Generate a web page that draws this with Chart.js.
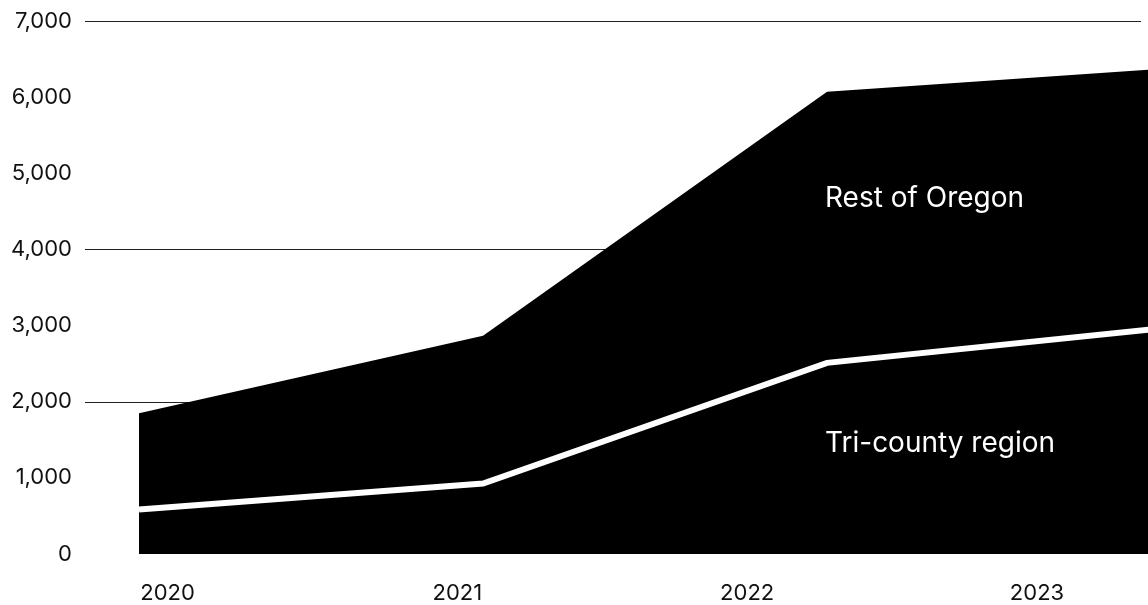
<!DOCTYPE html>
<html>
<head>
<meta charset="utf-8">
<script src="https://cdn.jsdelivr.net/npm/chart.js@4/dist/chart.umd.min.js"></script>
<style>
  html, body { margin: 0; padding: 0; background: #ffffff; }
  #wrap { width: 1148px; height: 605px; }
</style>
</head>
<body>
<div id="wrap"><canvas id="chart" width="1148" height="605"></canvas></div>
<script>
// Years shown along the bottom axis
const years = ['2020', '2021', '2022', '2023'];

// Tri-county region (Multnomah, Washington, Clackamas)
const triCounty = [585, 925, 2510, 2975];

// Rest of Oregon, stacked on top of the tri-county values
const restOfOregon = [1265, 1940, 3560, 3405];

// Value axis
const yMax = 7000;
const yStep = 1000;
const gridValues = [2000, 4000, 7000];

// Text labels drawn on top of the areas
const areaLabels = ['Rest of Oregon', 'Tri-county region'];

const FONT = 'Inter, "Noto Sans", sans-serif';

const toPoints = arr => arr.map((v, i) => ({ x: i, y: v }));

// Horizontal rules behind the areas, stopping a little short of the right edge
const gridRules = {
  id: 'gridRules',
  beforeDatasetsDraw(chart) {
    const { ctx, chartArea, scales } = chart;
    ctx.save();
    ctx.strokeStyle = '#222222';
    ctx.lineWidth = 1;
    gridValues.forEach(v => {
      const y = Math.round(scales.y.getPixelForValue(v)) + 0.5;
      ctx.beginPath();
      ctx.moveTo(chartArea.left, y);
      ctx.lineTo(chartArea.right - 7, y);
      ctx.stroke();
    });
    ctx.restore();
  }
};

// White series names placed inside the black areas
const areaText = {
  id: 'areaText',
  afterDatasetsDraw(chart) {
    const ctx = chart.ctx;
    ctx.save();
    ctx.fillStyle = '#ffffff';
    ctx.font = '400 28px ' + FONT;
    ctx.textAlign = 'left';
    ctx.textBaseline = 'alphabetic';
    ctx.fillText(areaLabels[0], 825, 207);
    ctx.fillText(areaLabels[1], 825, 452);
    ctx.restore();
  }
};

new Chart(document.getElementById('chart'), {
  type: 'line',
  data: {
    datasets: [
      {
        label: areaLabels[1],
        data: toPoints(triCounty),
        xAxisID: 'xd',
        fill: 'origin',
        backgroundColor: '#000000',
        borderColor: '#ffffff',
        borderWidth: 6,
        borderCapStyle: 'butt',
        borderJoinStyle: 'miter',
        pointRadius: 0,
        tension: 0,
        clip: false
      },
      {
        label: areaLabels[0],
        data: toPoints(restOfOregon),
        xAxisID: 'xd',
        fill: '-1',
        backgroundColor: '#000000',
        borderColor: '#000000',
        borderWidth: 0,
        pointRadius: 0,
        tension: 0,
        clip: false
      }
    ]
  },
  options: {
    responsive: false,
    animation: false,
    devicePixelRatio: 1,
    layout: { padding: { top: 21, right: 0, left: 0, bottom: 0 } },
    plugins: {
      legend: { display: false },
      tooltip: { enabled: false }
    },
    scales: {
      xd: {
        type: 'linear',
        display: false,
        min: -0.157,
        max: 2.933
      },
      xl: {
        type: 'linear',
        position: 'bottom',
        min: -0.2847,
        max: 3.383,
        afterBuildTicks(axis) {
          axis.ticks = years.map((_, i) => ({ value: i }));
        },
        afterFit(scale) { scale.height = 51; },
        grid: { display: false, drawTicks: false },
        border: { display: false },
        ticks: {
          autoSkip: false,
          maxRotation: 0,
          padding: 26,
          color: '#111111',
          font: { family: FONT, size: 22 },
          callback: v => years[v]
        }
      },
      y: {
        stacked: true,
        min: 0,
        max: yMax,
        afterFit(scale) {
          scale.width = 85;
          scale.paddingTop = 0;
          scale.paddingBottom = 0;
        },
        grid: { display: false, drawTicks: false },
        border: { display: false },
        ticks: {
          stepSize: yStep,
          padding: 13,
          color: '#111111',
          font: { family: FONT, size: 22 },
          callback: v => v.toLocaleString('en-US')
        }
      }
    }
  },
  plugins: [gridRules, areaText]
});
</script>
</body>
</html>
